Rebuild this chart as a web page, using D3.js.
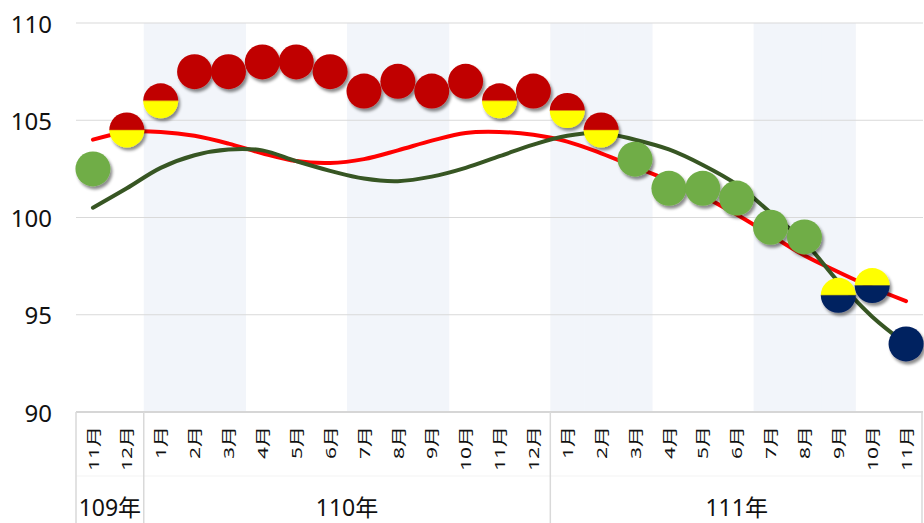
<!DOCTYPE html>
<html><head><meta charset="utf-8">
<script src="https://cdn.jsdelivr.net/npm/d3@7"></script>
<style>
html,body{margin:0;padding:0;background:#fff;}
svg{display:block;font-family:"Noto Sans","Noto Sans CJK TC",sans-serif;}
</style></head>
<body><svg id="chart" width="924" height="523"></svg>
<script>
const months = ["11月","12月","1月","2月","3月","4月","5月","6月","7月","8月","9月","10月","11月","12月","1月","2月","3月","4月","5月","6月","7月","8月","9月","10月","11月"];
const monthNums = [11,12,1,2,3,4,5,6,7,8,9,10,11,12,1,2,3,4,5,6,7,8,9,10,11];
const yearLabels = ["109年","110年","111年"];
const yearSpans = [2,12,11];
const scores = [102.5,104.5,106.0,107.5,107.5,108.0,108.0,107.5,106.5,107.0,106.5,107.0,106.0,106.5,105.5,104.5,103.0,101.5,101.5,101.0,99.5,99.0,96.0,96.5,93.5];
const signals = ["green","yr","yr","red","red","red","red","red","red","red","red","red","yr","red","yr","yr","green","green","green","green","green","green","yb","yb","blue"];
const redLine = [104.0,104.4,104.4,104.2,103.8,103.3,102.9,102.8,103.0,103.45,103.95,104.35,104.4,104.25,103.9,103.3,102.6,101.9,101.1,100.15,99.1,98.05,97.2,96.4,95.7];
const greenLine = [100.5,101.5,102.55,103.2,103.5,103.45,102.9,102.4,102.0,101.87,102.1,102.55,103.15,103.75,104.2,104.35,104.0,103.5,102.7,101.7,100.25,98.75,96.7,94.9,93.5];
const yTicks = [90,95,100,105,110];

const svg = d3.select("#chart");
const idx = d3.range(months.length);
const x = d3.scaleBand().domain(idx).range([76, 923]).padding(0);
const y = d3.scaleLinear().domain([90,110]).range([412, 23]);
const cx = i => x(i) + x.bandwidth()/2;

const defs = svg.append("defs");
defs.append("filter").attr("id","sh").attr("x","-50%").attr("y","-50%").attr("width","200%").attr("height","200%")
  .append("feDropShadow").attr("dx",2).attr("dy",3).attr("stdDeviation",1.8)
  .attr("flood-color","#000").attr("flood-opacity",0.45);

// shaded quarters (Jan–Mar, Jul–Sep)
svg.append("g").selectAll("rect")
  .data(idx.filter(i => [1,2,3,7,8,9].includes(monthNums[i])))
  .join("rect")
  .attr("x", i => x(i)).attr("width", x.bandwidth()+0.6)
  .attr("y", y(110)).attr("height", y(90)-y(110))
  .attr("fill", "#f2f5fa");

// gridlines
svg.append("g").selectAll("line").data(yTicks.filter(t => t>90)).join("line")
  .attr("x1",76).attr("x2",923).attr("y1",d=>y(d)).attr("y2",d=>y(d))
  .attr("stroke","#d9d9d9").attr("stroke-width",1);

// y tick labels
svg.append("g").selectAll("text").data(yTicks).join("text")
  .attr("x",52).attr("y",d=>y(d)).attr("text-anchor","end").attr("dominant-baseline","central")
  .attr("font-size",24).attr("fill","#111").text(d=>d);

// x axis
svg.append("line").attr("x1",76).attr("x2",923).attr("y1",y(90)).attr("y2",y(90))
  .attr("stroke","#d6d6d6").attr("stroke-width",2);
svg.append("line").attr("x1",76).attr("x2",923).attr("y1",476).attr("y2",476)
  .attr("stroke","#f3f3f3").attr("stroke-width",1);

let acc = 0; const bounds = [0];
yearSpans.forEach(s => { acc += s; bounds.push(acc); });
svg.append("g").selectAll("line").data(bounds).join("line")
  .attr("x1", b => b < months.length ? x(b) : 922).attr("x2", b => b < months.length ? x(b) : 922)
  .attr("y1", y(90)).attr("y2", 523)
  .attr("stroke","#d9d9d9").attr("stroke-width",1.5);

// month labels (vertical)
svg.append("g").selectAll("text").data(idx).join("text")
  .attr("transform", i => `translate(${cx(i)},${y(90)+14}) rotate(-90) scale(1,0.7)`)
  .attr("text-anchor","end").attr("dominant-baseline","central")
  .attr("font-size",21).attr("fill","#111").text(i => months[i]);

// year labels
svg.append("g").selectAll("text").data(yearLabels).join("text")
  .attr("x",(d,k) => (x(bounds[k]) + (bounds[k+1] < months.length ? x(bounds[k+1]) : 923))/2)
  .attr("y",507).attr("text-anchor","middle").attr("dominant-baseline","central")
  .attr("font-size",23).attr("fill","#111").text(d=>d);

// lines
const lineGen = vals => d3.line().x((d,i)=>cx(i)).y(d=>y(d)).curve(d3.curveCatmullRom.alpha(0.5))(vals);
svg.append("path").attr("d", lineGen(redLine)).attr("fill","none").attr("stroke","#ff0000").attr("stroke-width",4).attr("stroke-linecap","round");
svg.append("path").attr("d", lineGen(greenLine)).attr("fill","none").attr("stroke","#375623").attr("stroke-width",4).attr("stroke-linecap","round");

// signal circles
const R = 17.5;
const colors = {red:"#c00000", green:"#70ad47", blue:"#002060", yellow:"#ffff00"};
const topColor = {yr:colors.red, yb:colors.yellow};
const botColor = {yr:colors.yellow, yb:colors.blue};
const dots = svg.append("g");
idx.forEach(i => {
  const g = dots.append("g").attr("transform",`translate(${cx(i)},${y(scores[i])})`).attr("filter","url(#sh)");
  const s = signals[i];
  if (s === "yr" || s === "yb") {
    g.append("path").attr("d",`M${-R},0 A${R},${R} 0 0 1 ${R},0 Z`).attr("fill",topColor[s]);
    g.append("path").attr("d",`M${-R},0 A${R},${R} 0 0 0 ${R},0 Z`).attr("fill",botColor[s]);
    g.append("line").attr("x1",-R).attr("x2",R).attr("y1",0).attr("y2",0)
      .attr("stroke", s==="yr" ? "#e07000" : "#5a5a2a").attr("stroke-width",1).attr("opacity",0.6);
  } else {
    g.append("circle").attr("r",R).attr("fill",colors[s]);
  }
});
</script></body></html>
